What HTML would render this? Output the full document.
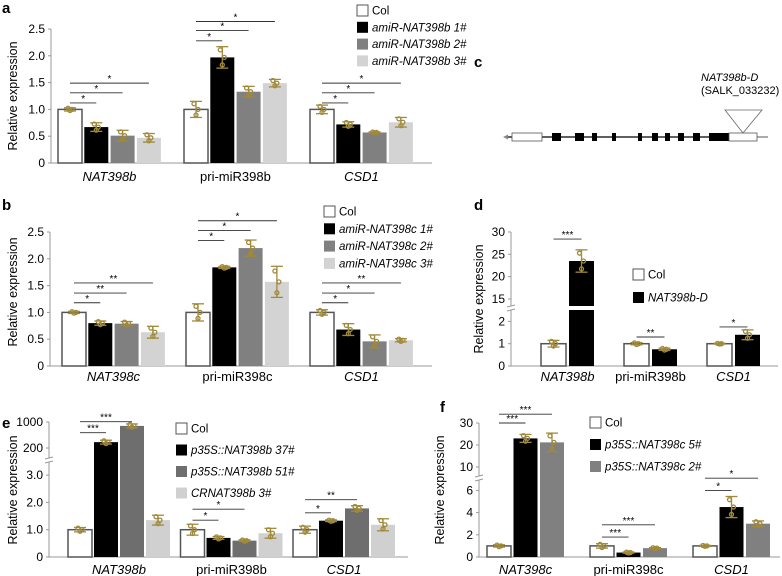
<!DOCTYPE html>
<html><head><meta charset="utf-8"><style>
html,body{margin:0;padding:0;background:#fff;}
svg{display:block;font-family:"Liberation Sans",Arial,sans-serif;}
</style></head><body>
<svg id="fig" width="782" height="576" viewBox="0 0 782 576" xmlns="http://www.w3.org/2000/svg">
<g font-weight="bold" font-size="15" fill="#000">
<text x="2" y="13">a</text><text x="2" y="210">b</text><text x="474" y="67">c</text>
<text x="474" y="210">d</text><text x="2" y="428">e</text><text x="440" y="412">f</text>
</g>
<g>
<line x1="505" y1="137" x2="768" y2="137" stroke="#000" stroke-width="1.2"/>
<line x1="757" y1="137" x2="768" y2="137" stroke="#999" stroke-width="1"/>
<path d="M503 137 L508 134.5 L508 139.5 Z" fill="#888"/>
<rect x="512" y="133" width="30" height="8" fill="#fff" stroke="#555" stroke-width="0.8"/>
<rect x="552" y="133" width="9" height="8" fill="#000"/><rect x="575" y="133" width="9" height="8" fill="#000"/>
<rect x="592" y="133" width="5" height="8" fill="#000"/><rect x="612" y="133" width="4" height="8" fill="#000"/>
<rect x="638" y="133" width="4" height="8" fill="#000"/><rect x="652" y="133" width="6" height="8" fill="#000"/>
<rect x="665" y="133" width="5" height="8" fill="#000"/><rect x="678" y="133" width="6" height="8" fill="#000"/>
<rect x="693" y="133" width="7" height="8" fill="#000"/><rect x="709" y="133" width="20" height="8" fill="#000"/>
<rect x="729" y="133" width="28" height="8" fill="#fff" stroke="#555" stroke-width="0.8"/>
<path d="M725 110 L762 110 L743 133 Z" fill="none" stroke="#666" stroke-width="0.8"/>
<text x="701" y="81" font-size="11" font-style="italic">NAT398b-D</text>
<text x="701" y="94" font-size="11">(SALK_033232)</text>
</g>
<g id="charts"></g>
</svg>
<script>
// ---- Panel a data ----
const aCategories = ["NAT398b", "pri-miR398b", "CSD1"];
const aSeriesNames = ["Col", "amiR-NAT398b 1#", "amiR-NAT398b 2#", "amiR-NAT398b 3#"];
const aCol = [1.0, 1.0, 1.0];
const aS1 = [0.67, 1.97, 0.72];
const aS2 = [0.51, 1.33, 0.57];
const aS3 = [0.47, 1.49, 0.76];
const aErr0 = [0.03, 0.15, 0.08];
const aErr1 = [0.08, 0.2, 0.05];
const aErr2 = [0.1, 0.1, 0.01];
const aErr3 = [0.08, 0.07, 0.09];
const aTicks = [0, 0.5, 1.0, 1.5, 2.0, 2.5];
const aTickLabels = ["0", "0.5", "1.0", "1.5", "2.0", "2.5"];
const aSigGroup = [0, 0, 0, 1, 1, 1, 2, 2, 2];
const aSigTo = [1, 2, 3, 1, 2, 3, 1, 2, 3];
const aSigLevel = [1.12, 1.31, 1.49, 2.28, 2.47, 2.64, 1.12, 1.31, 1.49];
const aSigLabel = ["*", "*", "*", "*", "*", "*", "*", "*", "*"];
// ---- Panel b data ----
const bCategories = ["NAT398c", "pri-miR398c", "CSD1"];
const bSeriesNames = ["Col", "amiR-NAT398c 1#", "amiR-NAT398c 2#", "amiR-NAT398c 3#"];
const bCol = [1.0, 1.0, 1.0];
const bS1 = [0.80, 1.84, 0.68];
const bS2 = [0.79, 2.2, 0.46];
const bS3 = [0.63, 1.57, 0.48];
const bErr0 = [0.02, 0.16, 0.05];
const bErr1 = [0.04, 0.02, 0.11];
const bErr2 = [0.04, 0.15, 0.12];
const bErr3 = [0.11, 0.29, 0.03];
const bTicks = [0, 0.5, 1.0, 1.5, 2.0, 2.5];
const bTickLabels = ["0", "0.5", "1.0", "1.5", "2.0", "2.5"];
const bSigGroup = [0, 0, 0, 1, 1, 1, 2, 2, 2];
const bSigTo = [1, 2, 3, 1, 2, 3, 1, 2, 3];
const bSigLevel = [1.18, 1.36, 1.55, 2.34, 2.53, 2.71, 1.18, 1.36, 1.55];
const bSigLabel = ["*", "**", "**", "*", "*", "*", "*", "*", "**"];
// ---- Panel d data ----
const dCategories = ["NAT398b", "pri-miR398b", "CSD1"];
const dSeriesNames = ["Col", "NAT398b-D"];
const dCol = [1.0, 1.0, 1.0];
const dS1 = [23.5, 0.75, 1.4];
const dErr0 = [0.15, 0.05, 0.02];
const dErr1 = [2.5, 0.05, 0.22];
const dTicks = [0, 1, 2, 15, 20, 25, 30];
const dTickLabels = ["0", "1", "2", "15", "20", "25", "30"];
const dSigGroup = [0, 1, 2];
const dSigTo = [1, 1, 1];
const dSigLevel = [28.4, 1.3, 1.75];
const dSigLabel = ["***", "**", "*"];
// ---- Panel e data ----
const eCategories = ["NAT398b", "pri-miR398b", "CSD1"];
const eSeriesNames = ["Col", "p35S::NAT398b 37#", "p35S::NAT398b 51#", "CRNAT398b 3#"];
const eCol = [1.0, 1.0, 1.0];
const eS1 = [380, 0.7, 1.33];
const eS2 = [880, 0.6, 1.78];
const eS3 = [1.35, 0.87, 1.18];
const eErr0 = [0.08, 0.2, 0.13];
const eErr1 = [60, 0.05, 0.03];
const eErr2 = [60, 0.03, 0.1];
const eErr3 = [0.18, 0.18, 0.22];
const eTicks = [0, 1, 2, 3, 200, 1000];
const eTickLabels = ["0", "1.0", "2.0", "3.0", "200", "1000"];
const eSigGroup = [0, 0, 1, 1, 2, 2];
const eSigTo = [1, 2, 1, 2, 1, 2];
const eSigLevel = [670, 1010, 1.35, 1.75, 1.62, 2.1];
const eSigLabel = ["***", "***", "*", "*", "*", "**"];
// ---- Panel f data ----
const fCategories = ["NAT398c", "pri-miR398c", "CSD1"];
const fSeriesNames = ["Col", "p35S::NAT398c 5#", "p35S::NAT398c 2#"];
const fCol = [1.0, 1.0, 1.0];
const fS1 = [23.0, 0.4, 4.5];
const fS2 = [21.2, 0.8, 3.0];
const fErr0 = [0.1, 0.2, 0.05];
const fErr1 = [1.8, 0.05, 0.95];
const fErr2 = [4.2, 0.05, 0.25];
const fTicks = [0, 2, 4, 6, 10, 20, 30];
const fTickLabels = ["0", "2", "4", "6", "10", "20", "30"];
const fSigGroup = [0, 0, 1, 1, 2, 2];
const fSigTo = [1, 2, 1, 2, 1, 2];
const fSigLevel = [30, 34, 1.8, 2.9, 6.0, 7.1];
const fSigLabel = ["***", "***", "***", "***", "*", "*"];

const NS = "http://www.w3.org/2000/svg";
const root = document.getElementById("charts");
function mk(tag, attrs, parent) {
  const el = document.createElementNS(NS, tag);
  for (const k in attrs) el.setAttribute(k, attrs[k]);
  parent.appendChild(el);
  return el;
}
const ERRC = "#a08a3a";

function drawPanel(cfg) {
  const g = mk("g", {}, root);
  
  
  const y = cfg.y;
  const ax = mk("g", {stroke: "#999", "stroke-width": 1, fill: "none"}, g);
  
  
  mk("line", {x1: cfg.x0, y1: y(0), x2: cfg.x0, y2: y(cfg.ticks[cfg.ticks.length - 1])}, ax);
  mk("line", {x1: cfg.x0, y1: y(0), x2: cfg.xEnd, y2: y(0)}, ax);
  cfg.ticks.forEach((t, i) => {
    const ty = y(t);
    mk("line", {x1: cfg.x0 - 3, y1: ty, x2: cfg.x0, y2: ty}, ax);
    const tl = mk("text", {x: cfg.x0 - 6, y: ty + 4, "text-anchor": "end", "font-size": 12, fill: "#000", stroke: "none"}, g);
    
    
    tl.textContent = cfg.tickLabels[i];
  });
  const yt = mk("text", {x: 0, y: 0, "font-size": 12.5, "text-anchor": "middle", transform: `translate(${cfg.titleX},${cfg.titleY}) rotate(-90)`}, g);
  
  
  yt.textContent = "Relative expression";
  const n = cfg.series.length;
  const centers = [];
  cfg.categories.forEach((cat, gi) => {
    centers.push([]);
    const gx = cfg.first + gi * cfg.spacing;
    for (let s = 0; s < n; s++) {
      const v = cfg.series[s][gi];
      const bx = gx + s * cfg.step;
      const cx = bx + cfg.w / 2;
      centers[gi].push(cx);
      const top = y(v);
      const r = mk("rect", {x: bx, y: top, width: cfg.w, height: y(0) - top, fill: cfg.colors[s],
        stroke: s === 0 ? "#555" : "none", "stroke-width": s === 0 ? 1.5 : 0}, g);
      
      
      if (cfg.gap && top < cfg.gap[0]) {
        const gp = mk("rect", {x: bx - 1, y: cfg.gap[0], width: cfg.w + 2, height: cfg.gap[1] - cfg.gap[0], fill: "#fff"}, g);
        
        
      }
      const e = cfg.errs[s][gi];
      const eg = mk("g", {stroke: ERRC, "stroke-width": 1.3, fill: "none"}, g);
      
      
      mk("line", {x1: cx, y1: y(v - e), x2: cx, y2: y(v + e)}, eg);
      mk("line", {x1: cx - 6, y1: y(v + e), x2: cx + 6, y2: y(v + e)}, eg);
      mk("line", {x1: cx - 6, y1: y(v - e), x2: cx + 6, y2: y(v - e)}, eg);
      mk("circle", {cx: cx - 2, cy: y(v + e * 0.7), r: 2}, eg);
      mk("circle", {cx: cx + 2, cy: y(v), r: 2}, eg);
      mk("circle", {cx: cx, cy: y(v - e * 0.7), r: 2}, eg);
    }
    const cl = mk("text", {x: gx + ((n - 1) * cfg.step + cfg.w) / 2, y: cfg.labelY, "text-anchor": "middle", "font-size": 13,
      "font-style": cat.startsWith("pri") ? "normal" : "italic"}, g);
    
    
    cl.textContent = cat;
  });
  if (cfg.brk) {
    const b = mk("g", {stroke: "#999", "stroke-width": 1}, g);
    
    
    mk("rect", {x: cfg.x0 - 2, y: cfg.brk - 2, width: 4, height: 4, fill: "#fff", stroke: "none"}, b);
    mk("line", {x1: cfg.x0 - 4, y1: cfg.brk - 1, x2: cfg.x0 + 4, y2: cfg.brk - 3}, b);
    mk("line", {x1: cfg.x0 - 4, y1: cfg.brk + 3, x2: cfg.x0 + 4, y2: cfg.brk + 1}, b);
  }
  cfg.sigGroup.forEach((gi, k) => {
    const x1 = centers[gi][0], x2 = centers[gi][cfg.sigTo[k]];
    const ly = y(cfg.sigLevel[k]);
    const l = mk("line", {x1: x1, y1: ly, x2: x2, y2: ly, stroke: "#333", "stroke-width": 0.9}, g);
    
    
    const st = mk("text", {x: (x1 + x2) / 2, y: ly - 1, "text-anchor": "middle", "font-size": 10}, g);
    
    
    st.textContent = cfg.sigLabel[k];
  });
  cfg.series.forEach((_, s) => {
    const ly = cfg.legY + s * cfg.legStep;
    const le = mk("g", {}, g);
    
    
    mk("rect", {x: cfg.legX, y: ly - 5, width: 11, height: 11, fill: cfg.colors[s], stroke: s === 0 ? "#555" : "none", "stroke-width": 1}, le);
    const t = mk("text", {x: cfg.legX + 15, y: ly + 4.5, "font-size": 11.5, "font-style": s === 0 ? "normal" : "italic"}, le);
    t.textContent = cfg.names[s];
  });
}

const C4 = ["#fff", "#000", "#808080", "#d3d3d3"];
drawPanel({name: "panel-a", categories: aCategories, names: aSeriesNames, series: [aCol, aS1, aS2, aS3], errs: [aErr0, aErr1, aErr2, aErr3],
  ticks: aTicks, tickLabels: aTickLabels, sigGroup: aSigGroup, sigTo: aSigTo, sigLevel: aSigLevel, sigLabel: aSigLabel,
  y: v => 163 - v * 53.6, x0: 51, xEnd: 432, first: 58, spacing: 126, step: 26.3, w: 24, colors: C4,
  labelY: 181, titleX: 17, titleY: 96, legX: 357, legY: 10, legStep: 16.8});
drawPanel({name: "panel-b", categories: bCategories, names: bSeriesNames, series: [bCol, bS1, bS2, bS3], errs: [bErr0, bErr1, bErr2, bErr3],
  ticks: bTicks, tickLabels: bTickLabels, sigGroup: bSigGroup, sigTo: bSigTo, sigLevel: bSigLevel, sigLabel: bSigLabel,
  y: v => 366 - v * 53.6, x0: 50, xEnd: 432, first: 62, spacing: 124, step: 26.3, w: 24, colors: C4,
  labelY: 381, titleX: 17, titleY: 292, legX: 324, legY: 211, legStep: 17.3});
drawPanel({name: "panel-d", categories: dCategories, names: dSeriesNames, series: [dCol, dS1], errs: [dErr0, dErr1],
  ticks: dTicks, tickLabels: dTickLabels, sigGroup: dSigGroup, sigTo: dSigTo, sigLevel: dSigLevel, sigLabel: dSigLabel,
  y: v => v <= 2.6 ? 366 - v * 22.3 : 299 - (v - 15) * 4.47, x0: 511, xEnd: 778, first: 541, spacing: 83, step: 28, w: 25,
  colors: ["#fff", "#000"], gap: [306, 310], brk: 308,
  labelY: 381, titleX: 483, titleY: 299, legX: 633, legY: 274, legStep: 23});
drawPanel({name: "panel-e", categories: eCategories, names: eSeriesNames, series: [eCol, eS1, eS2, eS3], errs: [eErr0, eErr1, eErr2, eErr3],
  ticks: eTicks, tickLabels: eTickLabels, sigGroup: eSigGroup, sigTo: eSigTo, sigLevel: eSigLevel, sigLabel: eSigLabel,
  y: v => v <= 3.4 ? 557 - v * 27.3 : 448 - (v - 200) / 800 * 26, x0: 49, xEnd: 408, first: 68, spacing: 112.5, step: 26, w: 24,
  colors: ["#fff", "#000", "#6e6e6e", "#d0d0d0"], brk: 460,
  labelY: 574, titleX: 17, titleY: 490, legX: 176, legY: 428, legStep: 21.5});
drawPanel({name: "panel-f", categories: fCategories, names: fSeriesNames, series: [fCol, fS1, fS2], errs: [fErr0, fErr1, fErr2],
  ticks: fTicks, tickLabels: fTickLabels, sigGroup: fSigGroup, sigTo: fSigTo, sigLevel: fSigLevel, sigLabel: fSigLabel,
  y: v => v <= 7.2 ? 557 - v * 11.1 : 467 - (v - 10) * 2.2, x0: 479, xEnd: 780, first: 487, spacing: 103, step: 26.5, w: 24,
  colors: ["#fff", "#000", "#808080"], brk: 478,
  labelY: 574, titleX: 444, titleY: 490, legX: 590, legY: 422, legStep: 22});
</script>
</body></html>
